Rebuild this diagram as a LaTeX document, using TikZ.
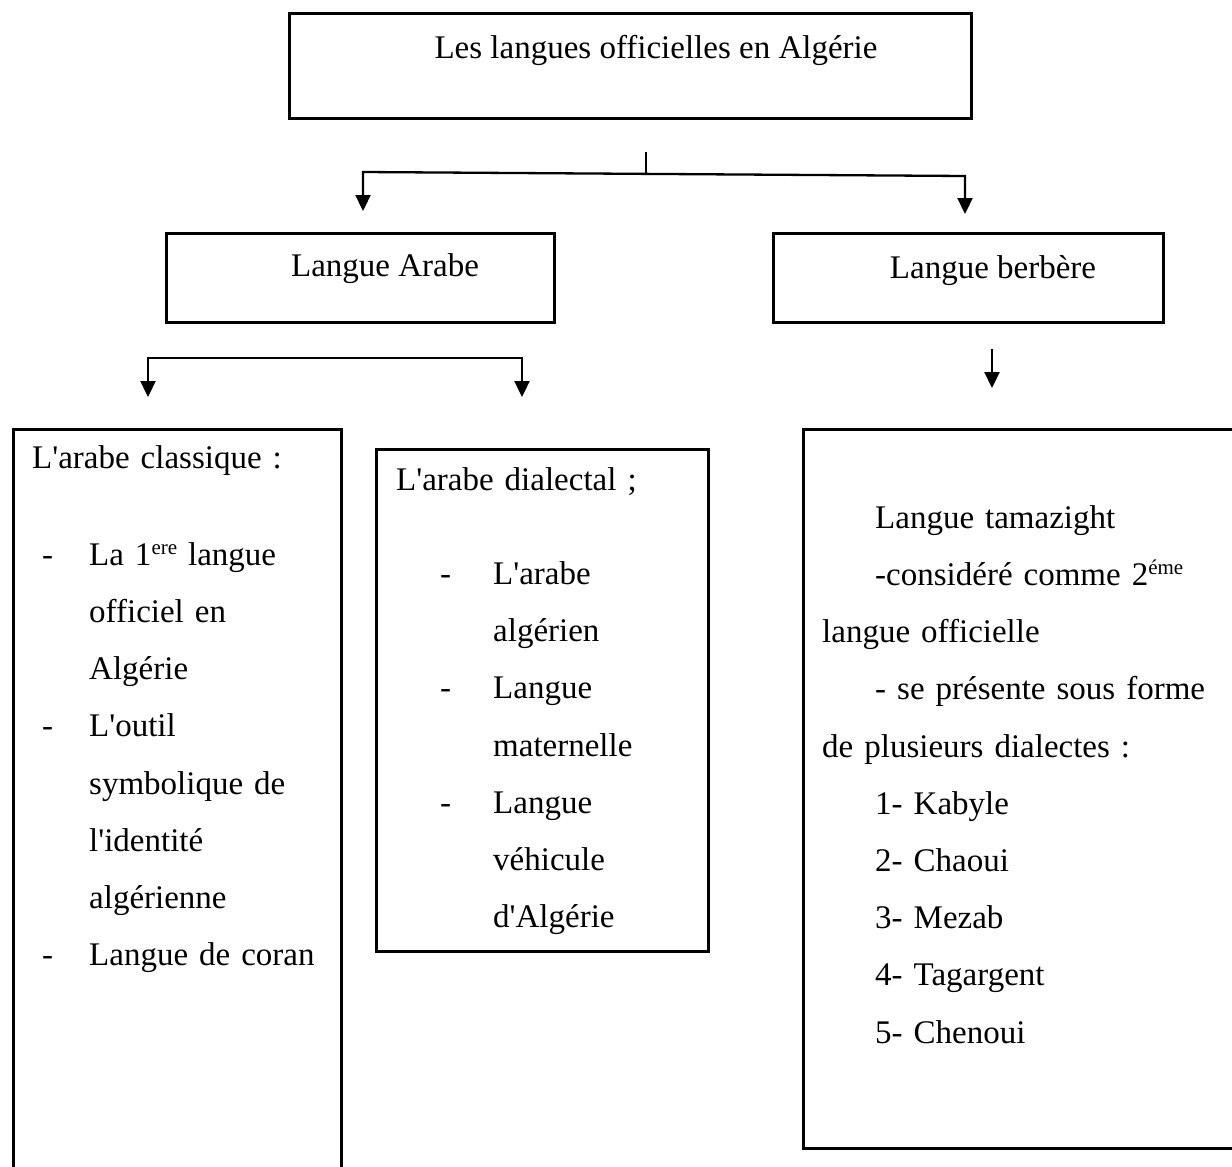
\documentclass[tikz,border=0pt]{standalone}
\usepackage{fontspec}
\setmainfont{Liberation Serif}[Ligatures=TeXOff]
\usetikzlibrary{arrows.meta,positioning}
\newcommand{\tiret}[2]{\makebox[#2][l]{\hspace*{#1}-}}
\newcommand{\expo}[1]{\raisebox{11pt}{\fontsize{21}{21}\selectfont#1}}

\begin{document}
\begin{tikzpicture}[x=1pt,y=-1pt,>={Triangle[length=16pt,width=15pt]},
      box/.style={draw=black,line width=2.6pt,inner sep=0pt,anchor=north west},
      body/.style={inner sep=0pt,anchor=north west,align=left,
                   font=\fontsize{33}{57.2}\selectfont},
      title/.style={inner sep=0pt,anchor=base,font=\fontsize{33}{40}\selectfont},
      flow/.style={->,line width=2.3pt,draw=black},
      branch/.style={line width=2.3pt,draw=black}]
    \useasboundingbox (0,0) rectangle (1232,1167);
    \clip (0,0) rectangle (1232,1167);
    \node[box,minimum width=682,minimum height=105] (officielles) at (288,12) {};
    \node[title] (officiellesT) at (656,58) {Les langues officielles en Algérie};
    \node[box,minimum width=388,minimum height=89] (arabe) at (165,232) {};
    \node[title] (arabeT) at (385,276) {Langue Arabe};
    \node[box,minimum width=390,minimum height=89] (berbere) at (772,232) {};
    \node[title] (berbereT) at (993,278) {Langue berbère};
    \coordinate (tige) at (646,152);
    \coordinate (fourche) at (646,174);
    \coordinate (gA) at (363,172);
    \coordinate (gB) at (965,176);
    \draw[branch] (tige) -- (fourche);
    \draw[flow,<->] ([yshift=21pt]arabe.north -| gA) -- (gA) -- (gB) -- ([yshift=18pt]berbere.north -| gB);

    \node[box,minimum width=328,minimum height=760] (classique) at (12,428) {};
    \node[body,text width=300] (classiqueT) at (32,428) {\strut L'arabe classique :\\[39.8pt]
      \tiret{10pt}{57pt}La 1\expo{ere} langue\\
      \hspace*{57pt}officiel en\\
      \hspace*{57pt}Algérie\\
      \tiret{10pt}{57pt}L'outil\\
      \hspace*{57pt}symbolique de\\
      \hspace*{57pt}l'identité\\
      \hspace*{57pt}algérienne\\
      \tiret{10pt}{57pt}Langue de coran};
    \node[box,minimum width=332,minimum height=502] (dialectal) at (375,448) {};
    \node[body,text width=310] (dialectalT) at (396,450) {\strut L'arabe dialectal ;\\[37pt]
      \tiret{44pt}{97pt}L'arabe\\
      \hspace*{97pt}algérien\\
      \tiret{44pt}{97pt}Langue\\
      \hspace*{97pt}maternelle\\
      \tiret{44pt}{97pt}Langue\\
      \hspace*{97pt}véhicule\\
      \hspace*{97pt}d'Algérie};
    \coordinate (hA) at (148,358);
    \coordinate (hB) at (522,358);
    \draw[flow,<->] ([yshift=31pt]classique.north -| hA) -- (hA) -- (hB) -- ([yshift=51pt]dialectal.north -| hB);

    \node[box,minimum width=440,minimum height=719] (tamazight) at (802,428) {};
    \node[body,text width=420] (tamazightT) at (822,488) {\strut\hspace*{53pt}Langue tamazight\\
      \hspace*{53pt}-considéré comme 2\expo{éme}\\
      langue officielle\\
      \hspace*{53pt}- se présente sous forme\\
      de plusieurs dialectes :\\
      \hspace*{53pt}1- Kabyle\\
      \hspace*{53pt}2- Chaoui\\
      \hspace*{53pt}3- Mezab\\
      \hspace*{53pt}4- Tagargent\\
      \hspace*{53pt}5- Chenoui};
    \coordinate (tB) at (992,349);
    \draw[flow] (tB) -- ([yshift=40pt]tamazight.north -| tB);
    \end{tikzpicture}
\end{document}
